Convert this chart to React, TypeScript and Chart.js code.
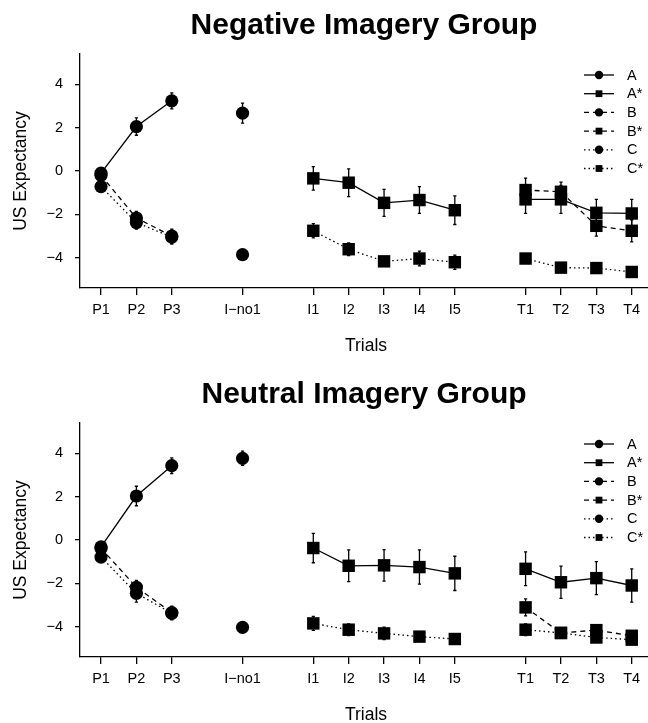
import React, { useEffect, useRef } from "react";
import { Chart, registerables } from "chart.js";

Chart.register(...registerables);

const FONT = '"Liberation Sans", Arial, Helvetica, sans-serif';

// ---- categories / ticks ----
const trialLabels = ["P1", "P2", "P3", "I\u2212no1", "I1", "I2", "I3", "I4", "I5", "T1", "T2", "T3", "T4"];
const trialSlots = [1, 2, 3, 5, 7, 8, 9, 10, 11, 13, 14, 15, 16];
const trialPhase = ["P", "P", "P", "N", "I", "I", "I", "I", "I", "T", "T", "T", "T"];
const yTickValues = [-4, -2, 0, 2, 4];
const seriesNames = ["A", "A*", "B", "B*", "C", "C*"];
const xAxisTitle = "Trials";
const yAxisTitle = "US Expectancy";
const panelTitles = ["Negative Imagery Group", "Neutral Imagery Group"];

const _ = null;

// ---- Negative Imagery Group ----
const negA = [-0.10, 2.05, 3.24, 2.67, _, _, _, _, _, _, _, _, _];
const negAErr = [0.20, 0.40, 0.37, 0.46, _, _, _, _, _, _, _, _, _];
const negAs = [_, _, _, _, -0.34, -0.54, -1.47, -1.34, -1.81, -1.31, -1.31, -1.93, -1.96];
const negAsErr = [_, _, _, _, 0.54, 0.64, 0.62, 0.62, 0.66, 0.65, 0.65, 0.62, 0.65];
const negB = [-0.20, -2.17, -3.00, _, _, _, _, _, _, _, _, _, _];
const negBErr = [0.15, 0.30, 0.32, _, _, _, _, _, _, _, _, _, _];
const negBs = [_, _, _, _, _, _, _, _, _, -0.88, -0.96, -2.53, -2.76];
const negBsErr = [_, _, _, _, _, _, _, _, _, 0.55, 0.45, 0.48, 0.51];
const negC = [-0.72, -2.38, -3.05, -3.86, _, _, _, _, _, _, _, _, _];
const negCErr = [0.15, 0.30, 0.32, 0.15, _, _, _, _, _, _, _, _, _];
const negCs = [_, _, _, _, -2.76, -3.61, -4.17, -4.04, -4.21, -4.04, -4.46, -4.48, -4.66];
const negCsErr = [_, _, _, _, 0.33, 0.29, 0.12, 0.34, 0.33, 0.12, 0.10, 0.10, 0.10];

// ---- Neutral Imagery Group ----
const neuA = [-0.32, 2.03, 3.43, 3.77, _, _, _, _, _, _, _, _, _];
const neuAErr = [0.20, 0.45, 0.36, 0.33, _, _, _, _, _, _, _, _, _];
const neuAs = [_, _, _, _, -0.37, -1.19, -1.17, -1.25, -1.54, -1.33, -1.95, -1.76, -2.10];
const neuAsErr = [_, _, _, _, 0.68, 0.73, 0.73, 0.79, 0.79, 0.78, 0.74, 0.76, 0.77];
const neuB = [-0.38, -2.18, -3.35, _, _, _, _, _, _, _, _, _, _];
const neuBErr = [0.15, 0.31, 0.30, _, _, _, _, _, _, _, _, _, _];
const neuBs = [_, _, _, _, _, _, _, _, _, -3.11, -4.29, -4.16, -4.42];
const neuBsErr = [_, _, _, _, _, _, _, _, _, 0.39, 0.15, 0.20, 0.15];
const neuC = [-0.79, -2.46, -3.38, -4.03, _, _, _, _, _, _, _, _, _];
const neuCErr = [0.15, 0.41, 0.30, 0.23, _, _, _, _, _, _, _, _, _];
const neuCs = [_, _, _, _, -3.85, -4.14, -4.31, -4.46, -4.57, -4.14, -4.29, -4.50, -4.60];
const neuCsErr = [_, _, _, _, 0.32, 0.27, 0.29, 0.15, 0.10, 0.27, 0.15, 0.20, 0.10];

const panels = [
  {
    title: panelTitles[0],
    values: [negA, negAs, negB, negBs, negC, negCs],
    errors: [negAErr, negAsErr, negBErr, negBsErr, negCErr, negCsErr],
    titleY: 34,
  },
  {
    title: panelTitles[1],
    values: [neuA, neuAs, neuB, neuBs, neuC, neuCs],
    errors: [neuAErr, neuAsErr, neuBErr, neuBsErr, neuCErr, neuCsErr],
    titleY: 34,
  },
];

const LINE_W = 1.3;
const dashFor = (name: string) =>
  name.startsWith("A") ? [] : name.startsWith("B") ? [5, 4] : [1.5, 3];
const isSquare = (name: string) => name.endsWith("*");

const decorPlugin = {
  id: "panelDecor",
  beforeDatasetsDraw(chart: any) {
    const { ctx } = chart;
    const xs = chart.scales.x;
    const ys = chart.scales.y;
    ctx.save();
    ctx.strokeStyle = "#000";
    ctx.lineWidth = LINE_W;
    ctx.setLineDash([]);
    chart.data.datasets.forEach((ds: any) => {
      const errs = ds.errorBars;
      if (!errs) return;
      ds.data.forEach((p: any, i: number) => {
        if (p.y == null || errs[i] == null) return;
        const px = xs.getPixelForValue(p.x);
        const y1 = ys.getPixelForValue(p.y + errs[i]);
        const y2 = ys.getPixelForValue(p.y - errs[i]);
        ctx.beginPath();
        ctx.moveTo(px, y1);
        ctx.lineTo(px, y2);
        ctx.moveTo(px - 1.6, y1);
        ctx.lineTo(px + 1.6, y1);
        ctx.moveTo(px - 1.6, y2);
        ctx.lineTo(px + 1.6, y2);
        ctx.stroke();
      });
    });
    ctx.restore();
  },
  afterDraw(chart: any, _args: any, opts: any) {
    const { ctx, chartArea: ca } = chart;
    const cx = (ca.left + ca.right) / 2;
    ctx.save();
    ctx.fillStyle = "#000";
    ctx.textAlign = "center";
    ctx.textBaseline = "alphabetic";
    ctx.font = `bold 30px ${FONT}`;
    ctx.fillText(opts.title, cx, opts.titleY);
    ctx.font = `17.5px ${FONT}`;
    ctx.fillText(xAxisTitle, cx + 2, 351);
    ctx.save();
    ctx.translate(26, (ca.top + ca.bottom) / 2);
    ctx.rotate(-Math.PI / 2);
    ctx.fillText(yAxisTitle, 0, 0);
    ctx.restore();

    // legend (top-right)
    const lx0 = 584, lx1 = 614, lpx = 599, tx = 627, y0 = 75, dy = 18.7;
    ctx.strokeStyle = "#000";
    ctx.lineWidth = LINE_W;
    ctx.font = `14.5px ${FONT}`;
    ctx.textAlign = "left";
    ctx.textBaseline = "middle";
    seriesNames.forEach((n, i) => {
      const yy = y0 + i * dy;
      ctx.setLineDash(dashFor(n));
      ctx.beginPath();
      ctx.moveTo(lx0, yy);
      ctx.lineTo(lx1, yy);
      ctx.stroke();
      ctx.setLineDash([]);
      ctx.beginPath();
      if (isSquare(n)) {
        ctx.rect(lpx - 3.4, yy - 3.4, 6.8, 6.8);
      } else {
        ctx.arc(lpx, yy, 4.2, 0, Math.PI * 2);
      }
      ctx.fill();
      ctx.fillText(n, tx, yy + 0.5);
    });
    ctx.restore();
  },
};

function Panel({ panel }: { panel: any }) {
  const ref = useRef<HTMLCanvasElement | null>(null);
  useEffect(() => {
    if (!ref.current) return;
    const datasets = seriesNames.map((name, si) => ({
      label: name,
      data: trialSlots.map((s, i) => ({ x: s, y: panel.values[si][i] })),
      errorBars: panel.errors[si],
      borderColor: "#000",
      borderWidth: LINE_W,
      borderDash: dashFor(name),
      backgroundColor: "#000",
      pointStyle: isSquare(name) ? "rect" : "circle",
      pointRadius: isSquare(name) ? 8.8 : 6.6,
      pointBorderWidth: 0,
      pointBackgroundColor: "#000",
      pointHoverRadius: isSquare(name) ? 8.8 : 6.6,
      fill: false,
      tension: 0,
      spanGaps: false,
      segment: {
        borderColor: (c: any) =>
          trialPhase[c.p0DataIndex] !== trialPhase[c.p1DataIndex] ? "rgba(0,0,0,0)" : "#000",
      },
    }));
    const chart = new Chart(ref.current, {
      type: "line",
      data: { datasets } as any,
      options: {
        animation: false,
        responsive: false,
        devicePixelRatio: 1,
        events: [],
        layout: { autoPadding: false, padding: { top: 54, left: 0, right: 0, bottom: 0 } },
        plugins: {
          legend: { display: false },
          title: { display: false },
          tooltip: { enabled: false },
          panelDecor: { title: panel.title, titleY: panel.titleY },
        } as any,
        scales: {
          x: {
            type: "linear",
            min: 0.406,
            max: 16.46,
            afterBuildTicks: (s: any) => {
              s.ticks = trialSlots.map((v) => ({ value: v }));
            },
            afterFit: (s: any) => {
              s.height = 81;
              s.paddingLeft = 0;
              s.paddingRight = 0;
            },
            ticks: {
              autoSkip: false,
              maxRotation: 0,
              minRotation: 0,
              padding: 6,
              color: "#000",
              font: { size: 14.5, family: FONT },
              callback: (v: any) => {
                const k = trialSlots.indexOf(Number(v));
                return k >= 0 ? trialLabels[k] : "";
              },
            },
            grid: { drawOnChartArea: false, drawTicks: true, tickLength: 7, color: "#000", lineWidth: LINE_W },
            border: { display: true, color: "#000", width: LINE_W },
          },
          y: {
            type: "linear",
            min: -5.4,
            max: 5.4,
            afterBuildTicks: (s: any) => {
              s.ticks = yTickValues.map((v) => ({ value: v }));
            },
            afterFit: (s: any) => {
              s.width = 80;
              s.paddingTop = 0;
              s.paddingBottom = 0;
            },
            ticks: {
              padding: 12,
              color: "#000",
              font: { size: 14.5, family: FONT },
              callback: (v: any) => (Number(v) < 0 ? "\u2212" + Math.abs(Number(v)) : String(v)),
            },
            grid: { drawOnChartArea: false, drawTicks: true, tickLength: 5, color: "#000", lineWidth: LINE_W },
            border: { display: true, color: "#000", width: LINE_W },
          },
        },
      } as any,
      plugins: [decorPlugin as any],
    });
    return () => chart.destroy();
  }, [panel]);
  return (
    <canvas
      ref={ref}
      width={648}
      height={369}
      style={{ display: "block", width: 648, height: 369 }}
    />
  );
}

export default function App() {
  return (
    <div
      style={{
        position: "fixed",
        left: 0,
        top: 0,
        width: 648,
        height: 723,
        overflow: "hidden",
        background: "#fff",
      }}
    >
      {panels.map((p, i) => (
        <Panel key={i} panel={p} />
      ))}
    </div>
  );
}
